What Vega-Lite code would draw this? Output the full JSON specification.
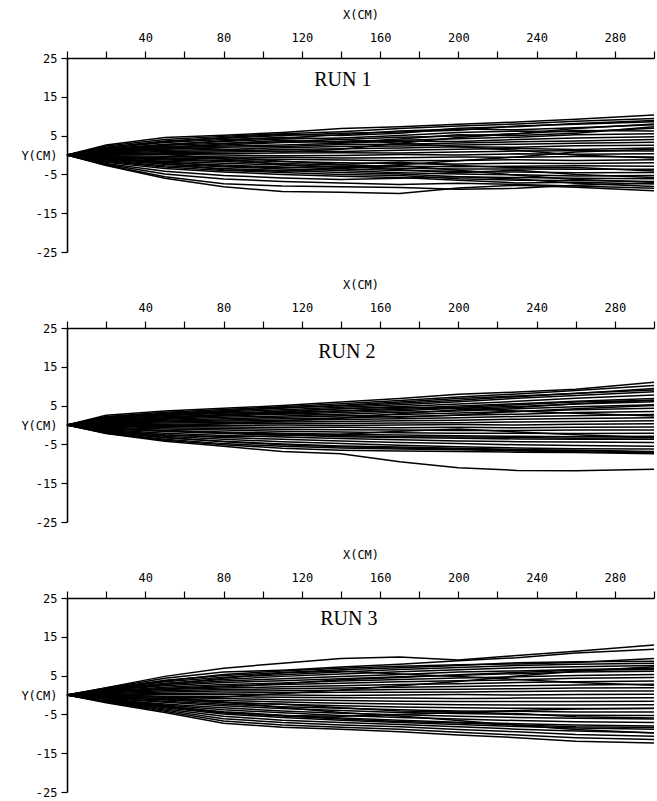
{
"$schema": "https://vega.github.io/schema/vega-lite/v6.json",
"padding": {"left": 20, "top": 8, "right": 2, "bottom": 2},
"background": "white",
"spacing": 20,
"config": {
  "view": {"stroke": null},
  "axis": {"domainColor": "black", "tickColor": "black", "labelColor": "black", "titleColor": "black", "labelFont": "DejaVu Sans Mono", "titleFont": "DejaVu Sans Mono", "labelFontSize": 12, "titleFontSize": 12, "titleFontWeight": "normal", "grid": false, "domainWidth": 1.6, "tickWidth": 1.2}
},
"datasets": {"paths": [
{"r":1,"l":1,"x":0,"y":0},{"r":1,"l":1,"x":20,"y":2.6},{"r":1,"l":1,"x":50,"y":4.5},{"r":1,"l":1,"x":80,"y":5.1},{"r":1,"l":1,"x":110,"y":5.8},{"r":1,"l":1,"x":140,"y":6.8},{"r":1,"l":1,"x":170,"y":7.3},{"r":1,"l":1,"x":200,"y":7.9},{"r":1,"l":1,"x":230,"y":8.5},{"r":1,"l":1,"x":260,"y":9.2},{"r":1,"l":1,"x":300,"y":10.3},
{"r":1,"l":2,"x":0,"y":0},{"r":1,"l":2,"x":20,"y":2.3},{"r":1,"l":2,"x":50,"y":4.0},{"r":1,"l":2,"x":80,"y":4.8},{"r":1,"l":2,"x":110,"y":5.5},{"r":1,"l":2,"x":140,"y":6.0},{"r":1,"l":2,"x":170,"y":6.8},{"r":1,"l":2,"x":200,"y":7.5},{"r":1,"l":2,"x":230,"y":8.0},{"r":1,"l":2,"x":260,"y":8.7},{"r":1,"l":2,"x":300,"y":9.4},
{"r":1,"l":3,"x":0,"y":0},{"r":1,"l":3,"x":20,"y":2.0},{"r":1,"l":3,"x":50,"y":3.6},{"r":1,"l":3,"x":80,"y":4.3},{"r":1,"l":3,"x":110,"y":5.0},{"r":1,"l":3,"x":140,"y":5.6},{"r":1,"l":3,"x":170,"y":5.9},{"r":1,"l":3,"x":200,"y":6.4},{"r":1,"l":3,"x":230,"y":7.5},{"r":1,"l":3,"x":260,"y":7.9},{"r":1,"l":3,"x":300,"y":8.6},
{"r":1,"l":4,"x":0,"y":0},{"r":1,"l":4,"x":20,"y":1.8},{"r":1,"l":4,"x":50,"y":3.2},{"r":1,"l":4,"x":80,"y":4.0},{"r":1,"l":4,"x":110,"y":4.4},{"r":1,"l":4,"x":140,"y":5.2},{"r":1,"l":4,"x":170,"y":6.2},{"r":1,"l":4,"x":200,"y":6.7},{"r":1,"l":4,"x":230,"y":6.5},{"r":1,"l":4,"x":260,"y":7.0},{"r":1,"l":4,"x":300,"y":7.8},
{"r":1,"l":5,"x":0,"y":0},{"r":1,"l":5,"x":20,"y":1.6},{"r":1,"l":5,"x":50,"y":2.8},{"r":1,"l":5,"x":80,"y":3.5},{"r":1,"l":5,"x":110,"y":4.1},{"r":1,"l":5,"x":140,"y":4.4},{"r":1,"l":5,"x":170,"y":5.0},{"r":1,"l":5,"x":200,"y":5.8},{"r":1,"l":5,"x":230,"y":6.2},{"r":1,"l":5,"x":260,"y":6.0},{"r":1,"l":5,"x":300,"y":6.9},
{"r":1,"l":6,"x":0,"y":0},{"r":1,"l":6,"x":20,"y":1.4},{"r":1,"l":6,"x":50,"y":2.5},{"r":1,"l":6,"x":80,"y":3.0},{"r":1,"l":6,"x":110,"y":3.4},{"r":1,"l":6,"x":140,"y":4.0},{"r":1,"l":6,"x":170,"y":4.6},{"r":1,"l":6,"x":200,"y":4.9},{"r":1,"l":6,"x":230,"y":5.5},{"r":1,"l":6,"x":260,"y":6.3},{"r":1,"l":6,"x":300,"y":6.2},
{"r":1,"l":7,"x":0,"y":0},{"r":1,"l":7,"x":20,"y":1.2},{"r":1,"l":7,"x":50,"y":2.2},{"r":1,"l":7,"x":80,"y":2.6},{"r":1,"l":7,"x":110,"y":3.2},{"r":1,"l":7,"x":140,"y":3.5},{"r":1,"l":7,"x":170,"y":3.8},{"r":1,"l":7,"x":200,"y":4.2},{"r":1,"l":7,"x":230,"y":4.6},{"r":1,"l":7,"x":260,"y":5.2},{"r":1,"l":7,"x":300,"y":5.5},
{"r":1,"l":8,"x":0,"y":0},{"r":1,"l":8,"x":20,"y":1.0},{"r":1,"l":8,"x":50,"y":1.9},{"r":1,"l":8,"x":80,"y":2.3},{"r":1,"l":8,"x":110,"y":2.6},{"r":1,"l":8,"x":140,"y":3.0},{"r":1,"l":8,"x":170,"y":3.6},{"r":1,"l":8,"x":200,"y":3.5},{"r":1,"l":8,"x":230,"y":4.0},{"r":1,"l":8,"x":260,"y":4.4},{"r":1,"l":8,"x":300,"y":4.7},
{"r":1,"l":9,"x":0,"y":0},{"r":1,"l":9,"x":20,"y":0.8},{"r":1,"l":9,"x":50,"y":1.5},{"r":1,"l":9,"x":80,"y":2.0},{"r":1,"l":9,"x":110,"y":2.2},{"r":1,"l":9,"x":140,"y":2.7},{"r":1,"l":9,"x":170,"y":2.8},{"r":1,"l":9,"x":200,"y":3.1},{"r":1,"l":9,"x":230,"y":3.4},{"r":1,"l":9,"x":260,"y":3.6},{"r":1,"l":9,"x":300,"y":4.0},
{"r":1,"l":10,"x":0,"y":0},{"r":1,"l":10,"x":20,"y":0.7},{"r":1,"l":10,"x":50,"y":1.2},{"r":1,"l":10,"x":80,"y":1.4},{"r":1,"l":10,"x":110,"y":1.9},{"r":1,"l":10,"x":140,"y":2.2},{"r":1,"l":10,"x":170,"y":2.3},{"r":1,"l":10,"x":200,"y":2.6},{"r":1,"l":10,"x":230,"y":2.8},{"r":1,"l":10,"x":260,"y":3.0},{"r":1,"l":10,"x":300,"y":3.3},
{"r":1,"l":11,"x":0,"y":0},{"r":1,"l":11,"x":20,"y":0.5},{"r":1,"l":11,"x":50,"y":0.9},{"r":1,"l":11,"x":80,"y":1.1},{"r":1,"l":11,"x":110,"y":1.4},{"r":1,"l":11,"x":140,"y":1.6},{"r":1,"l":11,"x":170,"y":1.8},{"r":1,"l":11,"x":200,"y":2.1},{"r":1,"l":11,"x":230,"y":2.0},{"r":1,"l":11,"x":260,"y":2.4},{"r":1,"l":11,"x":300,"y":2.5},
{"r":1,"l":12,"x":0,"y":0},{"r":1,"l":12,"x":20,"y":0.3},{"r":1,"l":12,"x":50,"y":0.6},{"r":1,"l":12,"x":80,"y":0.8},{"r":1,"l":12,"x":110,"y":1.0},{"r":1,"l":12,"x":140,"y":0.9},{"r":1,"l":12,"x":170,"y":1.2},{"r":1,"l":12,"x":200,"y":1.5},{"r":1,"l":12,"x":230,"y":1.7},{"r":1,"l":12,"x":260,"y":1.4},{"r":1,"l":12,"x":300,"y":1.8},
{"r":1,"l":13,"x":0,"y":0},{"r":1,"l":13,"x":20,"y":0.2},{"r":1,"l":13,"x":50,"y":0.3},{"r":1,"l":13,"x":80,"y":0.4},{"r":1,"l":13,"x":110,"y":0.5},{"r":1,"l":13,"x":140,"y":0.6},{"r":1,"l":13,"x":170,"y":0.5},{"r":1,"l":13,"x":200,"y":0.8},{"r":1,"l":13,"x":230,"y":1.0},{"r":1,"l":13,"x":260,"y":1.1},{"r":1,"l":13,"x":300,"y":1.0},
{"r":1,"l":14,"x":0,"y":0},{"r":1,"l":14,"x":20,"y":0.0},{"r":1,"l":14,"x":50,"y":0.1},{"r":1,"l":14,"x":80,"y":0.0},{"r":1,"l":14,"x":110,"y":-0.2},{"r":1,"l":14,"x":140,"y":-0.1},{"r":1,"l":14,"x":170,"y":0.1},{"r":1,"l":14,"x":200,"y":0.0},{"r":1,"l":14,"x":230,"y":0.3},{"r":1,"l":14,"x":260,"y":0.2},{"r":1,"l":14,"x":300,"y":0.3},
{"r":1,"l":15,"x":0,"y":0},{"r":1,"l":15,"x":20,"y":-0.2},{"r":1,"l":15,"x":50,"y":-0.3},{"r":1,"l":15,"x":80,"y":-0.5},{"r":1,"l":15,"x":110,"y":-0.6},{"r":1,"l":15,"x":140,"y":-0.8},{"r":1,"l":15,"x":170,"y":-0.7},{"r":1,"l":15,"x":200,"y":-0.5},{"r":1,"l":15,"x":230,"y":-0.6},{"r":1,"l":15,"x":260,"y":-0.4},{"r":1,"l":15,"x":300,"y":-0.5},
{"r":1,"l":16,"x":0,"y":0},{"r":1,"l":16,"x":20,"y":-0.4},{"r":1,"l":16,"x":50,"y":-0.7},{"r":1,"l":16,"x":80,"y":-1.0},{"r":1,"l":16,"x":110,"y":-1.1},{"r":1,"l":16,"x":140,"y":-1.3},{"r":1,"l":16,"x":170,"y":-1.5},{"r":1,"l":16,"x":200,"y":-1.4},{"r":1,"l":16,"x":230,"y":-1.2},{"r":1,"l":16,"x":260,"y":-1.4},{"r":1,"l":16,"x":300,"y":-1.2},
{"r":1,"l":17,"x":0,"y":0},{"r":1,"l":17,"x":20,"y":-0.5},{"r":1,"l":17,"x":50,"y":-1.0},{"r":1,"l":17,"x":80,"y":-1.4},{"r":1,"l":17,"x":110,"y":-1.7},{"r":1,"l":17,"x":140,"y":-2.0},{"r":1,"l":17,"x":170,"y":-2.2},{"r":1,"l":17,"x":200,"y":-2.3},{"r":1,"l":17,"x":230,"y":-2.1},{"r":1,"l":17,"x":260,"y":-2.2},{"r":1,"l":17,"x":300,"y":-2.0},
{"r":1,"l":18,"x":0,"y":0},{"r":1,"l":18,"x":20,"y":-0.7},{"r":1,"l":18,"x":50,"y":-1.3},{"r":1,"l":18,"x":80,"y":-1.7},{"r":1,"l":18,"x":110,"y":-2.2},{"r":1,"l":18,"x":140,"y":-2.6},{"r":1,"l":18,"x":170,"y":-2.9},{"r":1,"l":18,"x":200,"y":-3.0},{"r":1,"l":18,"x":230,"y":-2.9},{"r":1,"l":18,"x":260,"y":-2.8},{"r":1,"l":18,"x":300,"y":-2.9},
{"r":1,"l":19,"x":0,"y":0},{"r":1,"l":19,"x":20,"y":-0.9},{"r":1,"l":19,"x":50,"y":-1.6},{"r":1,"l":19,"x":80,"y":-2.1},{"r":1,"l":19,"x":110,"y":-2.6},{"r":1,"l":19,"x":140,"y":-3.0},{"r":1,"l":19,"x":170,"y":-3.4},{"r":1,"l":19,"x":200,"y":-3.6},{"r":1,"l":19,"x":230,"y":-3.6},{"r":1,"l":19,"x":260,"y":-3.7},{"r":1,"l":19,"x":300,"y":-3.7},
{"r":1,"l":20,"x":0,"y":0},{"r":1,"l":20,"x":20,"y":-1.1},{"r":1,"l":20,"x":50,"y":-2.0},{"r":1,"l":20,"x":80,"y":-2.6},{"r":1,"l":20,"x":110,"y":-3.1},{"r":1,"l":20,"x":140,"y":-3.6},{"r":1,"l":20,"x":170,"y":-4.0},{"r":1,"l":20,"x":200,"y":-4.2},{"r":1,"l":20,"x":230,"y":-4.4},{"r":1,"l":20,"x":260,"y":-4.6},{"r":1,"l":20,"x":300,"y":-4.5},
{"r":1,"l":21,"x":0,"y":0},{"r":1,"l":21,"x":20,"y":-1.3},{"r":1,"l":21,"x":50,"y":-2.4},{"r":1,"l":21,"x":80,"y":-3.0},{"r":1,"l":21,"x":110,"y":-3.6},{"r":1,"l":21,"x":140,"y":-4.0},{"r":1,"l":21,"x":170,"y":-4.6},{"r":1,"l":21,"x":200,"y":-4.9},{"r":1,"l":21,"x":230,"y":-5.1},{"r":1,"l":21,"x":260,"y":-5.4},{"r":1,"l":21,"x":300,"y":-5.3},
{"r":1,"l":22,"x":0,"y":0},{"r":1,"l":22,"x":20,"y":-1.5},{"r":1,"l":22,"x":50,"y":-2.8},{"r":1,"l":22,"x":80,"y":-3.5},{"r":1,"l":22,"x":110,"y":-4.0},{"r":1,"l":22,"x":140,"y":-4.5},{"r":1,"l":22,"x":170,"y":-4.9},{"r":1,"l":22,"x":200,"y":-5.6},{"r":1,"l":22,"x":230,"y":-5.8},{"r":1,"l":22,"x":260,"y":-6.0},{"r":1,"l":22,"x":300,"y":-6.1},
{"r":1,"l":23,"x":0,"y":0},{"r":1,"l":23,"x":20,"y":-1.7},{"r":1,"l":23,"x":50,"y":-3.1},{"r":1,"l":23,"x":80,"y":-4.0},{"r":1,"l":23,"x":110,"y":-4.5},{"r":1,"l":23,"x":140,"y":-5.0},{"r":1,"l":23,"x":170,"y":-5.3},{"r":1,"l":23,"x":200,"y":-6.1},{"r":1,"l":23,"x":230,"y":-6.5},{"r":1,"l":23,"x":260,"y":-6.6},{"r":1,"l":23,"x":300,"y":-6.8},
{"r":1,"l":24,"x":0,"y":0},{"r":1,"l":24,"x":20,"y":-1.9},{"r":1,"l":24,"x":50,"y":-3.5},{"r":1,"l":24,"x":80,"y":-4.4},{"r":1,"l":24,"x":110,"y":-5.0},{"r":1,"l":24,"x":140,"y":-5.5},{"r":1,"l":24,"x":170,"y":-5.8},{"r":1,"l":24,"x":200,"y":-6.5},{"r":1,"l":24,"x":230,"y":-7.2},{"r":1,"l":24,"x":260,"y":-7.0},{"r":1,"l":24,"x":300,"y":-7.5},
{"r":1,"l":25,"x":0,"y":0},{"r":1,"l":25,"x":20,"y":-2.2},{"r":1,"l":25,"x":50,"y":-4.2},{"r":1,"l":25,"x":80,"y":-5.3},{"r":1,"l":25,"x":110,"y":-5.9},{"r":1,"l":25,"x":140,"y":-6.3},{"r":1,"l":25,"x":170,"y":-6.0},{"r":1,"l":25,"x":200,"y":-5.6},{"r":1,"l":25,"x":230,"y":-6.2},{"r":1,"l":25,"x":260,"y":-7.3},{"r":1,"l":25,"x":300,"y":-8.1},
{"r":1,"l":26,"x":0,"y":0},{"r":1,"l":26,"x":20,"y":-2.4},{"r":1,"l":26,"x":50,"y":-4.9},{"r":1,"l":26,"x":80,"y":-6.2},{"r":1,"l":26,"x":110,"y":-6.8},{"r":1,"l":26,"x":140,"y":-7.2},{"r":1,"l":26,"x":170,"y":-7.6},{"r":1,"l":26,"x":200,"y":-7.3},{"r":1,"l":26,"x":230,"y":-7.6},{"r":1,"l":26,"x":260,"y":-8.0},{"r":1,"l":26,"x":300,"y":-8.6},
{"r":1,"l":27,"x":0,"y":0},{"r":1,"l":27,"x":20,"y":-2.6},{"r":1,"l":27,"x":50,"y":-5.6},{"r":1,"l":27,"x":80,"y":-7.4},{"r":1,"l":27,"x":110,"y":-8.0},{"r":1,"l":27,"x":140,"y":-8.2},{"r":1,"l":27,"x":170,"y":-8.4},{"r":1,"l":27,"x":200,"y":-8.8},{"r":1,"l":27,"x":230,"y":-8.6},{"r":1,"l":27,"x":260,"y":-7.8},{"r":1,"l":27,"x":300,"y":-7.2},
{"r":1,"l":28,"x":0,"y":0},{"r":1,"l":28,"x":20,"y":-2.7},{"r":1,"l":28,"x":50,"y":-6.0},{"r":1,"l":28,"x":80,"y":-8.2},{"r":1,"l":28,"x":110,"y":-9.4},{"r":1,"l":28,"x":140,"y":-9.6},{"r":1,"l":28,"x":170,"y":-9.9},{"r":1,"l":28,"x":200,"y":-8.5},{"r":1,"l":28,"x":230,"y":-7.8},{"r":1,"l":28,"x":260,"y":-8.3},{"r":1,"l":28,"x":300,"y":-9.2},
{"r":1,"l":29,"x":0,"y":0},{"r":1,"l":29,"x":20,"y":1.5},{"r":1,"l":29,"x":50,"y":2.0},{"r":1,"l":29,"x":80,"y":1.5},{"r":1,"l":29,"x":110,"y":0.8},{"r":1,"l":29,"x":140,"y":1.5},{"r":1,"l":29,"x":170,"y":3.0},{"r":1,"l":29,"x":200,"y":4.5},{"r":1,"l":29,"x":230,"y":5.5},{"r":1,"l":29,"x":260,"y":6.8},{"r":1,"l":29,"x":300,"y":8.0},
{"r":1,"l":30,"x":0,"y":0},{"r":1,"l":30,"x":20,"y":0.6},{"r":1,"l":30,"x":50,"y":0.2},{"r":1,"l":30,"x":80,"y":-1.0},{"r":1,"l":30,"x":110,"y":-2.5},{"r":1,"l":30,"x":140,"y":-3.2},{"r":1,"l":30,"x":170,"y":-2.5},{"r":1,"l":30,"x":200,"y":-1.5},{"r":1,"l":30,"x":230,"y":-0.5},{"r":1,"l":30,"x":260,"y":0.8},{"r":1,"l":30,"x":300,"y":1.5},
{"r":1,"l":31,"x":0,"y":0},{"r":1,"l":31,"x":20,"y":-0.8},{"r":1,"l":31,"x":50,"y":-2.2},{"r":1,"l":31,"x":80,"y":-3.8},{"r":1,"l":31,"x":110,"y":-4.2},{"r":1,"l":31,"x":140,"y":-3.5},{"r":1,"l":31,"x":170,"y":-2.8},{"r":1,"l":31,"x":200,"y":-3.9},{"r":1,"l":31,"x":230,"y":-5.2},{"r":1,"l":31,"x":260,"y":-6.3},{"r":1,"l":31,"x":300,"y":-7.0},
{"r":1,"l":32,"x":0,"y":0},{"r":1,"l":32,"x":20,"y":1.1},{"r":1,"l":32,"x":50,"y":2.6},{"r":1,"l":32,"x":80,"y":3.7},{"r":1,"l":32,"x":110,"y":4.6},{"r":1,"l":32,"x":140,"y":4.0},{"r":1,"l":32,"x":170,"y":3.0},{"r":1,"l":32,"x":200,"y":2.2},{"r":1,"l":32,"x":230,"y":1.2},{"r":1,"l":32,"x":260,"y":0.0},{"r":1,"l":32,"x":300,"y":-0.8},
{"r":1,"l":33,"x":0,"y":0},{"r":1,"l":33,"x":20,"y":1.9},{"r":1,"l":33,"x":50,"y":3.4},{"r":1,"l":33,"x":80,"y":4.5},{"r":1,"l":33,"x":110,"y":5.3},{"r":1,"l":33,"x":140,"y":5.0},{"r":1,"l":33,"x":170,"y":5.6},{"r":1,"l":33,"x":200,"y":6.9},{"r":1,"l":33,"x":230,"y":7.3},{"r":1,"l":33,"x":260,"y":8.1},{"r":1,"l":33,"x":300,"y":8.9},
{"r":1,"l":34,"x":0,"y":0},{"r":1,"l":34,"x":20,"y":-1.0},{"r":1,"l":34,"x":50,"y":-1.8},{"r":1,"l":34,"x":80,"y":-2.9},{"r":1,"l":34,"x":110,"y":-3.3},{"r":1,"l":34,"x":140,"y":-2.9},{"r":1,"l":34,"x":170,"y":-3.8},{"r":1,"l":34,"x":200,"y":-4.6},{"r":1,"l":34,"x":230,"y":-3.9},{"r":1,"l":34,"x":260,"y":-5.0},{"r":1,"l":34,"x":300,"y":-5.8},
{"r":1,"l":35,"x":0,"y":0},{"r":1,"l":35,"x":20,"y":0.9},{"r":1,"l":35,"x":50,"y":1.6},{"r":1,"l":35,"x":80,"y":2.9},{"r":1,"l":35,"x":110,"y":3.8},{"r":1,"l":35,"x":140,"y":3.2},{"r":1,"l":35,"x":170,"y":4.1},{"r":1,"l":35,"x":200,"y":5.2},{"r":1,"l":35,"x":230,"y":5.0},{"r":1,"l":35,"x":260,"y":5.6},{"r":1,"l":35,"x":300,"y":7.3},
{"r":1,"l":36,"x":0,"y":0},{"r":1,"l":36,"x":20,"y":-0.3},{"r":1,"l":36,"x":50,"y":-0.9},{"r":1,"l":36,"x":80,"y":-0.6},{"r":1,"l":36,"x":110,"y":-1.6},{"r":1,"l":36,"x":140,"y":-2.4},{"r":1,"l":36,"x":170,"y":-1.9},{"r":1,"l":36,"x":200,"y":-2.7},{"r":1,"l":36,"x":230,"y":-3.3},{"r":1,"l":36,"x":260,"y":-3.2},{"r":1,"l":36,"x":300,"y":-4.1},

{"r":2,"l":1,"x":0,"y":0},{"r":2,"l":1,"x":20,"y":2.5},{"r":2,"l":1,"x":50,"y":3.6},{"r":2,"l":1,"x":80,"y":4.3},{"r":2,"l":1,"x":110,"y":5.0},{"r":2,"l":1,"x":140,"y":5.9},{"r":2,"l":1,"x":170,"y":6.8},{"r":2,"l":1,"x":200,"y":7.9},{"r":2,"l":1,"x":230,"y":8.5},{"r":2,"l":1,"x":260,"y":9.2},{"r":2,"l":1,"x":300,"y":11.0},
{"r":2,"l":2,"x":0,"y":0},{"r":2,"l":2,"x":20,"y":2.2},{"r":2,"l":2,"x":50,"y":3.3},{"r":2,"l":2,"x":80,"y":4.0},{"r":2,"l":2,"x":110,"y":4.7},{"r":2,"l":2,"x":140,"y":5.5},{"r":2,"l":2,"x":170,"y":6.3},{"r":2,"l":2,"x":200,"y":7.2},{"r":2,"l":2,"x":230,"y":8.0},{"r":2,"l":2,"x":260,"y":8.9},{"r":2,"l":2,"x":300,"y":10.2},
{"r":2,"l":3,"x":0,"y":0},{"r":2,"l":3,"x":20,"y":2.0},{"r":2,"l":3,"x":50,"y":3.0},{"r":2,"l":3,"x":80,"y":3.7},{"r":2,"l":3,"x":110,"y":4.3},{"r":2,"l":3,"x":140,"y":5.1},{"r":2,"l":3,"x":170,"y":5.9},{"r":2,"l":3,"x":200,"y":6.8},{"r":2,"l":3,"x":230,"y":7.5},{"r":2,"l":3,"x":260,"y":8.1},{"r":2,"l":3,"x":300,"y":9.4},
{"r":2,"l":4,"x":0,"y":0},{"r":2,"l":4,"x":20,"y":1.8},{"r":2,"l":4,"x":50,"y":2.7},{"r":2,"l":4,"x":80,"y":3.4},{"r":2,"l":4,"x":110,"y":3.9},{"r":2,"l":4,"x":140,"y":4.6},{"r":2,"l":4,"x":170,"y":5.2},{"r":2,"l":4,"x":200,"y":6.0},{"r":2,"l":4,"x":230,"y":6.9},{"r":2,"l":4,"x":260,"y":7.6},{"r":2,"l":4,"x":300,"y":8.6},
{"r":2,"l":5,"x":0,"y":0},{"r":2,"l":5,"x":20,"y":1.6},{"r":2,"l":5,"x":50,"y":2.4},{"r":2,"l":5,"x":80,"y":3.0},{"r":2,"l":5,"x":110,"y":3.6},{"r":2,"l":5,"x":140,"y":4.2},{"r":2,"l":5,"x":170,"y":4.8},{"r":2,"l":5,"x":200,"y":5.4},{"r":2,"l":5,"x":230,"y":6.1},{"r":2,"l":5,"x":260,"y":6.9},{"r":2,"l":5,"x":300,"y":7.7},
{"r":2,"l":6,"x":0,"y":0},{"r":2,"l":6,"x":20,"y":1.4},{"r":2,"l":6,"x":50,"y":2.1},{"r":2,"l":6,"x":80,"y":2.7},{"r":2,"l":6,"x":110,"y":3.2},{"r":2,"l":6,"x":140,"y":3.7},{"r":2,"l":6,"x":170,"y":4.3},{"r":2,"l":6,"x":200,"y":4.9},{"r":2,"l":6,"x":230,"y":5.5},{"r":2,"l":6,"x":260,"y":6.1},{"r":2,"l":6,"x":300,"y":6.8},
{"r":2,"l":7,"x":0,"y":0},{"r":2,"l":7,"x":20,"y":1.2},{"r":2,"l":7,"x":50,"y":1.8},{"r":2,"l":7,"x":80,"y":2.3},{"r":2,"l":7,"x":110,"y":2.8},{"r":2,"l":7,"x":140,"y":3.2},{"r":2,"l":7,"x":170,"y":3.7},{"r":2,"l":7,"x":200,"y":4.3},{"r":2,"l":7,"x":230,"y":4.8},{"r":2,"l":7,"x":260,"y":5.4},{"r":2,"l":7,"x":300,"y":6.0},
{"r":2,"l":8,"x":0,"y":0},{"r":2,"l":8,"x":20,"y":1.0},{"r":2,"l":8,"x":50,"y":1.5},{"r":2,"l":8,"x":80,"y":2.0},{"r":2,"l":8,"x":110,"y":2.3},{"r":2,"l":8,"x":140,"y":2.8},{"r":2,"l":8,"x":170,"y":3.3},{"r":2,"l":8,"x":200,"y":3.6},{"r":2,"l":8,"x":230,"y":4.2},{"r":2,"l":8,"x":260,"y":4.7},{"r":2,"l":8,"x":300,"y":5.2},
{"r":2,"l":9,"x":0,"y":0},{"r":2,"l":9,"x":20,"y":0.8},{"r":2,"l":9,"x":50,"y":1.2},{"r":2,"l":9,"x":80,"y":1.6},{"r":2,"l":9,"x":110,"y":2.0},{"r":2,"l":9,"x":140,"y":2.3},{"r":2,"l":9,"x":170,"y":2.7},{"r":2,"l":9,"x":200,"y":3.1},{"r":2,"l":9,"x":230,"y":3.5},{"r":2,"l":9,"x":260,"y":3.9},{"r":2,"l":9,"x":300,"y":4.3},
{"r":2,"l":10,"x":0,"y":0},{"r":2,"l":10,"x":20,"y":0.6},{"r":2,"l":10,"x":50,"y":1.0},{"r":2,"l":10,"x":80,"y":1.3},{"r":2,"l":10,"x":110,"y":1.6},{"r":2,"l":10,"x":140,"y":1.8},{"r":2,"l":10,"x":170,"y":2.2},{"r":2,"l":10,"x":200,"y":2.5},{"r":2,"l":10,"x":230,"y":2.8},{"r":2,"l":10,"x":260,"y":3.2},{"r":2,"l":10,"x":300,"y":3.5},
{"r":2,"l":11,"x":0,"y":0},{"r":2,"l":11,"x":20,"y":0.5},{"r":2,"l":11,"x":50,"y":0.8},{"r":2,"l":11,"x":80,"y":1.0},{"r":2,"l":11,"x":110,"y":1.2},{"r":2,"l":11,"x":140,"y":1.4},{"r":2,"l":11,"x":170,"y":1.6},{"r":2,"l":11,"x":200,"y":1.9},{"r":2,"l":11,"x":230,"y":2.2},{"r":2,"l":11,"x":260,"y":2.4},{"r":2,"l":11,"x":300,"y":2.7},
{"r":2,"l":12,"x":0,"y":0},{"r":2,"l":12,"x":20,"y":0.3},{"r":2,"l":12,"x":50,"y":0.5},{"r":2,"l":12,"x":80,"y":0.7},{"r":2,"l":12,"x":110,"y":0.8},{"r":2,"l":12,"x":140,"y":0.9},{"r":2,"l":12,"x":170,"y":1.1},{"r":2,"l":12,"x":200,"y":1.2},{"r":2,"l":12,"x":230,"y":1.5},{"r":2,"l":12,"x":260,"y":1.7},{"r":2,"l":12,"x":300,"y":1.9},
{"r":2,"l":13,"x":0,"y":0},{"r":2,"l":13,"x":20,"y":0.1},{"r":2,"l":13,"x":50,"y":0.2},{"r":2,"l":13,"x":80,"y":0.3},{"r":2,"l":13,"x":110,"y":0.4},{"r":2,"l":13,"x":140,"y":0.4},{"r":2,"l":13,"x":170,"y":0.5},{"r":2,"l":13,"x":200,"y":0.6},{"r":2,"l":13,"x":230,"y":0.8},{"r":2,"l":13,"x":260,"y":0.9},{"r":2,"l":13,"x":300,"y":1.1},
{"r":2,"l":14,"x":0,"y":0},{"r":2,"l":14,"x":20,"y":0.0},{"r":2,"l":14,"x":50,"y":-0.1},{"r":2,"l":14,"x":80,"y":-0.1},{"r":2,"l":14,"x":110,"y":0.0},{"r":2,"l":14,"x":140,"y":-0.1},{"r":2,"l":14,"x":170,"y":0.0},{"r":2,"l":14,"x":200,"y":0.1},{"r":2,"l":14,"x":230,"y":0.0},{"r":2,"l":14,"x":260,"y":0.2},{"r":2,"l":14,"x":300,"y":0.3},
{"r":2,"l":15,"x":0,"y":0},{"r":2,"l":15,"x":20,"y":-0.2},{"r":2,"l":15,"x":50,"y":-0.4},{"r":2,"l":15,"x":80,"y":-0.5},{"r":2,"l":15,"x":110,"y":-0.6},{"r":2,"l":15,"x":140,"y":-0.6},{"r":2,"l":15,"x":170,"y":-0.7},{"r":2,"l":15,"x":200,"y":-0.6},{"r":2,"l":15,"x":230,"y":-0.7},{"r":2,"l":15,"x":260,"y":-0.6},{"r":2,"l":15,"x":300,"y":-0.5},
{"r":2,"l":16,"x":0,"y":0},{"r":2,"l":16,"x":20,"y":-0.4},{"r":2,"l":16,"x":50,"y":-0.7},{"r":2,"l":16,"x":80,"y":-0.9},{"r":2,"l":16,"x":110,"y":-1.1},{"r":2,"l":16,"x":140,"y":-1.2},{"r":2,"l":16,"x":170,"y":-1.3},{"r":2,"l":16,"x":200,"y":-1.4},{"r":2,"l":16,"x":230,"y":-1.4},{"r":2,"l":16,"x":260,"y":-1.3},{"r":2,"l":16,"x":300,"y":-1.3},
{"r":2,"l":17,"x":0,"y":0},{"r":2,"l":17,"x":20,"y":-0.6},{"r":2,"l":17,"x":50,"y":-1.0},{"r":2,"l":17,"x":80,"y":-1.3},{"r":2,"l":17,"x":110,"y":-1.6},{"r":2,"l":17,"x":140,"y":-1.8},{"r":2,"l":17,"x":170,"y":-2.0},{"r":2,"l":17,"x":200,"y":-2.1},{"r":2,"l":17,"x":230,"y":-2.1},{"r":2,"l":17,"x":260,"y":-2.2},{"r":2,"l":17,"x":300,"y":-2.1},
{"r":2,"l":18,"x":0,"y":0},{"r":2,"l":18,"x":20,"y":-0.8},{"r":2,"l":18,"x":50,"y":-1.4},{"r":2,"l":18,"x":80,"y":-1.8},{"r":2,"l":18,"x":110,"y":-2.1},{"r":2,"l":18,"x":140,"y":-2.4},{"r":2,"l":18,"x":170,"y":-2.6},{"r":2,"l":18,"x":200,"y":-2.8},{"r":2,"l":18,"x":230,"y":-2.9},{"r":2,"l":18,"x":260,"y":-3.0},{"r":2,"l":18,"x":300,"y":-2.9},
{"r":2,"l":19,"x":0,"y":0},{"r":2,"l":19,"x":20,"y":-1.0},{"r":2,"l":19,"x":50,"y":-1.7},{"r":2,"l":19,"x":80,"y":-2.2},{"r":2,"l":19,"x":110,"y":-2.6},{"r":2,"l":19,"x":140,"y":-3.0},{"r":2,"l":19,"x":170,"y":-3.2},{"r":2,"l":19,"x":200,"y":-3.4},{"r":2,"l":19,"x":230,"y":-3.6},{"r":2,"l":19,"x":260,"y":-3.7},{"r":2,"l":19,"x":300,"y":-3.7},
{"r":2,"l":20,"x":0,"y":0},{"r":2,"l":20,"x":20,"y":-1.2},{"r":2,"l":20,"x":50,"y":-2.1},{"r":2,"l":20,"x":80,"y":-2.7},{"r":2,"l":20,"x":110,"y":-3.1},{"r":2,"l":20,"x":140,"y":-3.5},{"r":2,"l":20,"x":170,"y":-3.8},{"r":2,"l":20,"x":200,"y":-4.1},{"r":2,"l":20,"x":230,"y":-4.3},{"r":2,"l":20,"x":260,"y":-4.4},{"r":2,"l":20,"x":300,"y":-4.5},
{"r":2,"l":21,"x":0,"y":0},{"r":2,"l":21,"x":20,"y":-1.4},{"r":2,"l":21,"x":50,"y":-2.5},{"r":2,"l":21,"x":80,"y":-3.2},{"r":2,"l":21,"x":110,"y":-3.7},{"r":2,"l":21,"x":140,"y":-4.1},{"r":2,"l":21,"x":170,"y":-4.5},{"r":2,"l":21,"x":200,"y":-4.8},{"r":2,"l":21,"x":230,"y":-5.1},{"r":2,"l":21,"x":260,"y":-5.3},{"r":2,"l":21,"x":300,"y":-5.5},
{"r":2,"l":22,"x":0,"y":0},{"r":2,"l":22,"x":20,"y":-1.6},{"r":2,"l":22,"x":50,"y":-2.9},{"r":2,"l":22,"x":80,"y":-3.7},{"r":2,"l":22,"x":110,"y":-4.3},{"r":2,"l":22,"x":140,"y":-4.8},{"r":2,"l":22,"x":170,"y":-5.2},{"r":2,"l":22,"x":200,"y":-5.6},{"r":2,"l":22,"x":230,"y":-5.9},{"r":2,"l":22,"x":260,"y":-6.1},{"r":2,"l":22,"x":300,"y":-6.2},
{"r":2,"l":23,"x":0,"y":0},{"r":2,"l":23,"x":20,"y":-1.8},{"r":2,"l":23,"x":50,"y":-3.3},{"r":2,"l":23,"x":80,"y":-4.2},{"r":2,"l":23,"x":110,"y":-4.9},{"r":2,"l":23,"x":140,"y":-5.4},{"r":2,"l":23,"x":170,"y":-5.7},{"r":2,"l":23,"x":200,"y":-6.0},{"r":2,"l":23,"x":230,"y":-6.3},{"r":2,"l":23,"x":260,"y":-6.5},{"r":2,"l":23,"x":300,"y":-6.8},
{"r":2,"l":24,"x":0,"y":0},{"r":2,"l":24,"x":20,"y":-2.0},{"r":2,"l":24,"x":50,"y":-3.7},{"r":2,"l":24,"x":80,"y":-4.8},{"r":2,"l":24,"x":110,"y":-5.5},{"r":2,"l":24,"x":140,"y":-5.9},{"r":2,"l":24,"x":170,"y":-6.2},{"r":2,"l":24,"x":200,"y":-6.4},{"r":2,"l":24,"x":230,"y":-6.7},{"r":2,"l":24,"x":260,"y":-6.9},{"r":2,"l":24,"x":300,"y":-7.2},
{"r":2,"l":25,"x":0,"y":0},{"r":2,"l":25,"x":20,"y":-2.1},{"r":2,"l":25,"x":50,"y":-3.9},{"r":2,"l":25,"x":80,"y":-5.1},{"r":2,"l":25,"x":110,"y":-6.0},{"r":2,"l":25,"x":140,"y":-6.5},{"r":2,"l":25,"x":170,"y":-6.7},{"r":2,"l":25,"x":200,"y":-6.8},{"r":2,"l":25,"x":230,"y":-7.0},{"r":2,"l":25,"x":260,"y":-7.1},{"r":2,"l":25,"x":300,"y":-7.4},
{"r":2,"l":26,"x":0,"y":0},{"r":2,"l":26,"x":20,"y":-2.2},{"r":2,"l":26,"x":50,"y":-4.2},{"r":2,"l":26,"x":80,"y":-5.5},{"r":2,"l":26,"x":110,"y":-6.8},{"r":2,"l":26,"x":140,"y":-7.4},{"r":2,"l":26,"x":170,"y":-9.5},{"r":2,"l":26,"x":200,"y":-11.0},{"r":2,"l":26,"x":230,"y":-11.7},{"r":2,"l":26,"x":260,"y":-11.8},{"r":2,"l":26,"x":300,"y":-11.4},
{"r":2,"l":27,"x":0,"y":0},{"r":2,"l":27,"x":20,"y":1.3},{"r":2,"l":27,"x":50,"y":2.5},{"r":2,"l":27,"x":80,"y":3.2},{"r":2,"l":27,"x":110,"y":3.0},{"r":2,"l":27,"x":140,"y":2.5},{"r":2,"l":27,"x":170,"y":2.0},{"r":2,"l":27,"x":200,"y":2.6},{"r":2,"l":27,"x":230,"y":3.5},{"r":2,"l":27,"x":260,"y":4.2},{"r":2,"l":27,"x":300,"y":5.0},
{"r":2,"l":28,"x":0,"y":0},{"r":2,"l":28,"x":20,"y":-0.3},{"r":2,"l":28,"x":50,"y":-0.2},{"r":2,"l":28,"x":80,"y":0.3},{"r":2,"l":28,"x":110,"y":1.0},{"r":2,"l":28,"x":140,"y":1.8},{"r":2,"l":28,"x":170,"y":2.9},{"r":2,"l":28,"x":200,"y":3.9},{"r":2,"l":28,"x":230,"y":4.5},{"r":2,"l":28,"x":260,"y":5.5},{"r":2,"l":28,"x":300,"y":6.4},
{"r":2,"l":29,"x":0,"y":0},{"r":2,"l":29,"x":20,"y":-1.5},{"r":2,"l":29,"x":50,"y":-2.6},{"r":2,"l":29,"x":80,"y":-3.0},{"r":2,"l":29,"x":110,"y":-2.8},{"r":2,"l":29,"x":140,"y":-2.4},{"r":2,"l":29,"x":170,"y":-1.6},{"r":2,"l":29,"x":200,"y":-1.0},{"r":2,"l":29,"x":230,"y":-1.8},{"r":2,"l":29,"x":260,"y":-2.5},{"r":2,"l":29,"x":300,"y":-3.2},
{"r":2,"l":30,"x":0,"y":0},{"r":2,"l":30,"x":20,"y":0.8},{"r":2,"l":30,"x":50,"y":1.7},{"r":2,"l":30,"x":80,"y":2.5},{"r":2,"l":30,"x":110,"y":3.4},{"r":2,"l":30,"x":140,"y":4.2},{"r":2,"l":30,"x":170,"y":4.6},{"r":2,"l":30,"x":200,"y":4.3},{"r":2,"l":30,"x":230,"y":3.6},{"r":2,"l":30,"x":260,"y":3.0},{"r":2,"l":30,"x":300,"y":2.3},
{"r":2,"l":31,"x":0,"y":0},{"r":2,"l":31,"x":20,"y":1.9},{"r":2,"l":31,"x":50,"y":2.9},{"r":2,"l":31,"x":80,"y":3.6},{"r":2,"l":31,"x":110,"y":4.5},{"r":2,"l":31,"x":140,"y":4.9},{"r":2,"l":31,"x":170,"y":5.6},{"r":2,"l":31,"x":200,"y":6.4},{"r":2,"l":31,"x":230,"y":7.3},{"r":2,"l":31,"x":260,"y":8.2},{"r":2,"l":31,"x":300,"y":9.0},
{"r":2,"l":32,"x":0,"y":0},{"r":2,"l":32,"x":20,"y":-0.9},{"r":2,"l":32,"x":50,"y":-1.5},{"r":2,"l":32,"x":80,"y":-2.0},{"r":2,"l":32,"x":110,"y":-2.3},{"r":2,"l":32,"x":140,"y":-2.7},{"r":2,"l":32,"x":170,"y":-3.0},{"r":2,"l":32,"x":200,"y":-3.1},{"r":2,"l":32,"x":230,"y":-3.2},{"r":2,"l":32,"x":260,"y":-3.4},{"r":2,"l":32,"x":300,"y":-3.3},
{"r":2,"l":33,"x":0,"y":0},{"r":2,"l":33,"x":20,"y":1.1},{"r":2,"l":33,"x":50,"y":1.9},{"r":2,"l":33,"x":80,"y":2.6},{"r":2,"l":33,"x":110,"y":3.0},{"r":2,"l":33,"x":140,"y":3.6},{"r":2,"l":33,"x":170,"y":4.0},{"r":2,"l":33,"x":200,"y":4.6},{"r":2,"l":33,"x":230,"y":5.2},{"r":2,"l":33,"x":260,"y":5.9},{"r":2,"l":33,"x":300,"y":6.4},
{"r":2,"l":34,"x":0,"y":0},{"r":2,"l":34,"x":20,"y":-1.7},{"r":2,"l":34,"x":50,"y":-3.2},{"r":2,"l":34,"x":80,"y":-4.3},{"r":2,"l":34,"x":110,"y":-5.1},{"r":2,"l":34,"x":140,"y":-5.6},{"r":2,"l":34,"x":170,"y":-5.9},{"r":2,"l":34,"x":200,"y":-6.2},{"r":2,"l":34,"x":230,"y":-6.5},{"r":2,"l":34,"x":260,"y":-6.6},{"r":2,"l":34,"x":300,"y":-7.0},

{"r":3,"l":1,"x":0,"y":0},{"r":3,"l":1,"x":20,"y":1.9},{"r":3,"l":1,"x":50,"y":4.8},{"r":3,"l":1,"x":80,"y":6.9},{"r":3,"l":1,"x":110,"y":8.2},{"r":3,"l":1,"x":140,"y":9.4},{"r":3,"l":1,"x":170,"y":9.8},{"r":3,"l":1,"x":200,"y":9.0},{"r":3,"l":1,"x":230,"y":10.2},{"r":3,"l":1,"x":260,"y":11.3},{"r":3,"l":1,"x":300,"y":12.9},
{"r":3,"l":2,"x":0,"y":0},{"r":3,"l":2,"x":20,"y":1.8},{"r":3,"l":2,"x":50,"y":4.3},{"r":3,"l":2,"x":80,"y":5.9},{"r":3,"l":2,"x":110,"y":6.4},{"r":3,"l":2,"x":140,"y":7.2},{"r":3,"l":2,"x":170,"y":7.9},{"r":3,"l":2,"x":200,"y":8.8},{"r":3,"l":2,"x":230,"y":9.6},{"r":3,"l":2,"x":260,"y":10.8},{"r":3,"l":2,"x":300,"y":11.8},
{"r":3,"l":3,"x":0,"y":0},{"r":3,"l":3,"x":20,"y":1.7},{"r":3,"l":3,"x":50,"y":3.8},{"r":3,"l":3,"x":80,"y":5.0},{"r":3,"l":3,"x":110,"y":5.8},{"r":3,"l":3,"x":140,"y":6.5},{"r":3,"l":3,"x":170,"y":7.0},{"r":3,"l":3,"x":200,"y":7.6},{"r":3,"l":3,"x":230,"y":8.3},{"r":3,"l":3,"x":260,"y":8.6},{"r":3,"l":3,"x":300,"y":8.7},
{"r":3,"l":4,"x":0,"y":0},{"r":3,"l":4,"x":20,"y":1.6},{"r":3,"l":4,"x":50,"y":3.4},{"r":3,"l":4,"x":80,"y":4.6},{"r":3,"l":4,"x":110,"y":5.2},{"r":3,"l":4,"x":140,"y":5.9},{"r":3,"l":4,"x":170,"y":6.6},{"r":3,"l":4,"x":200,"y":7.1},{"r":3,"l":4,"x":230,"y":7.6},{"r":3,"l":4,"x":260,"y":7.9},{"r":3,"l":4,"x":300,"y":8.2},
{"r":3,"l":5,"x":0,"y":0},{"r":3,"l":5,"x":20,"y":1.5},{"r":3,"l":5,"x":50,"y":3.0},{"r":3,"l":5,"x":80,"y":4.0},{"r":3,"l":5,"x":110,"y":4.8},{"r":3,"l":5,"x":140,"y":5.4},{"r":3,"l":5,"x":170,"y":6.0},{"r":3,"l":5,"x":200,"y":6.5},{"r":3,"l":5,"x":230,"y":7.0},{"r":3,"l":5,"x":260,"y":7.3},{"r":3,"l":5,"x":300,"y":7.6},
{"r":3,"l":6,"x":0,"y":0},{"r":3,"l":6,"x":20,"y":1.3},{"r":3,"l":6,"x":50,"y":2.7},{"r":3,"l":6,"x":80,"y":3.6},{"r":3,"l":6,"x":110,"y":4.2},{"r":3,"l":6,"x":140,"y":4.8},{"r":3,"l":6,"x":170,"y":5.3},{"r":3,"l":6,"x":200,"y":5.9},{"r":3,"l":6,"x":230,"y":6.2},{"r":3,"l":6,"x":260,"y":6.6},{"r":3,"l":6,"x":300,"y":6.9},
{"r":3,"l":7,"x":0,"y":0},{"r":3,"l":7,"x":20,"y":1.2},{"r":3,"l":7,"x":50,"y":2.4},{"r":3,"l":7,"x":80,"y":3.2},{"r":3,"l":7,"x":110,"y":3.7},{"r":3,"l":7,"x":140,"y":4.2},{"r":3,"l":7,"x":170,"y":4.7},{"r":3,"l":7,"x":200,"y":5.1},{"r":3,"l":7,"x":230,"y":5.5},{"r":3,"l":7,"x":260,"y":5.9},{"r":3,"l":7,"x":300,"y":6.1},
{"r":3,"l":8,"x":0,"y":0},{"r":3,"l":8,"x":20,"y":1.0},{"r":3,"l":8,"x":50,"y":2.0},{"r":3,"l":8,"x":80,"y":2.7},{"r":3,"l":8,"x":110,"y":3.1},{"r":3,"l":8,"x":140,"y":3.6},{"r":3,"l":8,"x":170,"y":4.0},{"r":3,"l":8,"x":200,"y":4.4},{"r":3,"l":8,"x":230,"y":4.7},{"r":3,"l":8,"x":260,"y":5.0},{"r":3,"l":8,"x":300,"y":5.3},
{"r":3,"l":9,"x":0,"y":0},{"r":3,"l":9,"x":20,"y":0.9},{"r":3,"l":9,"x":50,"y":1.7},{"r":3,"l":9,"x":80,"y":2.3},{"r":3,"l":9,"x":110,"y":2.7},{"r":3,"l":9,"x":140,"y":3.0},{"r":3,"l":9,"x":170,"y":3.4},{"r":3,"l":9,"x":200,"y":3.7},{"r":3,"l":9,"x":230,"y":3.9},{"r":3,"l":9,"x":260,"y":4.3},{"r":3,"l":9,"x":300,"y":4.5},
{"r":3,"l":10,"x":0,"y":0},{"r":3,"l":10,"x":20,"y":0.7},{"r":3,"l":10,"x":50,"y":1.4},{"r":3,"l":10,"x":80,"y":1.8},{"r":3,"l":10,"x":110,"y":2.1},{"r":3,"l":10,"x":140,"y":2.4},{"r":3,"l":10,"x":170,"y":2.7},{"r":3,"l":10,"x":200,"y":2.9},{"r":3,"l":10,"x":230,"y":3.2},{"r":3,"l":10,"x":260,"y":3.4},{"r":3,"l":10,"x":300,"y":3.6},
{"r":3,"l":11,"x":0,"y":0},{"r":3,"l":11,"x":20,"y":0.6},{"r":3,"l":11,"x":50,"y":1.1},{"r":3,"l":11,"x":80,"y":1.4},{"r":3,"l":11,"x":110,"y":1.6},{"r":3,"l":11,"x":140,"y":1.8},{"r":3,"l":11,"x":170,"y":2.0},{"r":3,"l":11,"x":200,"y":2.2},{"r":3,"l":11,"x":230,"y":2.4},{"r":3,"l":11,"x":260,"y":2.6},{"r":3,"l":11,"x":300,"y":2.8},
{"r":3,"l":12,"x":0,"y":0},{"r":3,"l":12,"x":20,"y":0.4},{"r":3,"l":12,"x":50,"y":0.8},{"r":3,"l":12,"x":80,"y":1.0},{"r":3,"l":12,"x":110,"y":1.1},{"r":3,"l":12,"x":140,"y":1.2},{"r":3,"l":12,"x":170,"y":1.4},{"r":3,"l":12,"x":200,"y":1.5},{"r":3,"l":12,"x":230,"y":1.6},{"r":3,"l":12,"x":260,"y":1.8},{"r":3,"l":12,"x":300,"y":1.9},
{"r":3,"l":13,"x":0,"y":0},{"r":3,"l":13,"x":20,"y":0.2},{"r":3,"l":13,"x":50,"y":0.4},{"r":3,"l":13,"x":80,"y":0.5},{"r":3,"l":13,"x":110,"y":0.6},{"r":3,"l":13,"x":140,"y":0.7},{"r":3,"l":13,"x":170,"y":0.7},{"r":3,"l":13,"x":200,"y":0.8},{"r":3,"l":13,"x":230,"y":0.9},{"r":3,"l":13,"x":260,"y":1.0},{"r":3,"l":13,"x":300,"y":1.0},
{"r":3,"l":14,"x":0,"y":0},{"r":3,"l":14,"x":20,"y":0.1},{"r":3,"l":14,"x":50,"y":0.1},{"r":3,"l":14,"x":80,"y":0.1},{"r":3,"l":14,"x":110,"y":0.0},{"r":3,"l":14,"x":140,"y":-0.1},{"r":3,"l":14,"x":170,"y":0.0},{"r":3,"l":14,"x":200,"y":0.1},{"r":3,"l":14,"x":230,"y":0.0},{"r":3,"l":14,"x":260,"y":0.1},{"r":3,"l":14,"x":300,"y":0.2},
{"r":3,"l":15,"x":0,"y":0},{"r":3,"l":15,"x":20,"y":-0.1},{"r":3,"l":15,"x":50,"y":-0.3},{"r":3,"l":15,"x":80,"y":-0.4},{"r":3,"l":15,"x":110,"y":-0.6},{"r":3,"l":15,"x":140,"y":-0.7},{"r":3,"l":15,"x":170,"y":-0.8},{"r":3,"l":15,"x":200,"y":-0.9},{"r":3,"l":15,"x":230,"y":-0.8},{"r":3,"l":15,"x":260,"y":-0.8},{"r":3,"l":15,"x":300,"y":-0.7},
{"r":3,"l":16,"x":0,"y":0},{"r":3,"l":16,"x":20,"y":-0.3},{"r":3,"l":16,"x":50,"y":-0.6},{"r":3,"l":16,"x":80,"y":-0.9},{"r":3,"l":16,"x":110,"y":-1.2},{"r":3,"l":16,"x":140,"y":-1.4},{"r":3,"l":16,"x":170,"y":-1.6},{"r":3,"l":16,"x":200,"y":-1.7},{"r":3,"l":16,"x":230,"y":-1.7},{"r":3,"l":16,"x":260,"y":-1.7},{"r":3,"l":16,"x":300,"y":-1.6},
{"r":3,"l":17,"x":0,"y":0},{"r":3,"l":17,"x":20,"y":-0.5},{"r":3,"l":17,"x":50,"y":-1.0},{"r":3,"l":17,"x":80,"y":-1.4},{"r":3,"l":17,"x":110,"y":-1.8},{"r":3,"l":17,"x":140,"y":-2.1},{"r":3,"l":17,"x":170,"y":-2.3},{"r":3,"l":17,"x":200,"y":-2.5},{"r":3,"l":17,"x":230,"y":-2.6},{"r":3,"l":17,"x":260,"y":-2.6},{"r":3,"l":17,"x":300,"y":-2.5},
{"r":3,"l":18,"x":0,"y":0},{"r":3,"l":18,"x":20,"y":-0.6},{"r":3,"l":18,"x":50,"y":-1.3},{"r":3,"l":18,"x":80,"y":-1.9},{"r":3,"l":18,"x":110,"y":-2.4},{"r":3,"l":18,"x":140,"y":-2.8},{"r":3,"l":18,"x":170,"y":-3.1},{"r":3,"l":18,"x":200,"y":-3.3},{"r":3,"l":18,"x":230,"y":-3.4},{"r":3,"l":18,"x":260,"y":-3.5},{"r":3,"l":18,"x":300,"y":-3.5},
{"r":3,"l":19,"x":0,"y":0},{"r":3,"l":19,"x":20,"y":-0.8},{"r":3,"l":19,"x":50,"y":-1.6},{"r":3,"l":19,"x":80,"y":-2.4},{"r":3,"l":19,"x":110,"y":-3.0},{"r":3,"l":19,"x":140,"y":-3.4},{"r":3,"l":19,"x":170,"y":-3.8},{"r":3,"l":19,"x":200,"y":-4.1},{"r":3,"l":19,"x":230,"y":-4.2},{"r":3,"l":19,"x":260,"y":-4.4},{"r":3,"l":19,"x":300,"y":-4.4},
{"r":3,"l":20,"x":0,"y":0},{"r":3,"l":20,"x":20,"y":-0.9},{"r":3,"l":20,"x":50,"y":-1.9},{"r":3,"l":20,"x":80,"y":-2.8},{"r":3,"l":20,"x":110,"y":-3.5},{"r":3,"l":20,"x":140,"y":-4.0},{"r":3,"l":20,"x":170,"y":-4.5},{"r":3,"l":20,"x":200,"y":-4.8},{"r":3,"l":20,"x":230,"y":-5.0},{"r":3,"l":20,"x":260,"y":-5.2},{"r":3,"l":20,"x":300,"y":-5.3},
{"r":3,"l":21,"x":0,"y":0},{"r":3,"l":21,"x":20,"y":-1.1},{"r":3,"l":21,"x":50,"y":-2.3},{"r":3,"l":21,"x":80,"y":-3.3},{"r":3,"l":21,"x":110,"y":-4.1},{"r":3,"l":21,"x":140,"y":-4.7},{"r":3,"l":21,"x":170,"y":-5.1},{"r":3,"l":21,"x":200,"y":-5.5},{"r":3,"l":21,"x":230,"y":-5.8},{"r":3,"l":21,"x":260,"y":-6.0},{"r":3,"l":21,"x":300,"y":-6.2},
{"r":3,"l":22,"x":0,"y":0},{"r":3,"l":22,"x":20,"y":-1.2},{"r":3,"l":22,"x":50,"y":-2.6},{"r":3,"l":22,"x":80,"y":-3.8},{"r":3,"l":22,"x":110,"y":-4.6},{"r":3,"l":22,"x":140,"y":-5.3},{"r":3,"l":22,"x":170,"y":-5.8},{"r":3,"l":22,"x":200,"y":-6.2},{"r":3,"l":22,"x":230,"y":-6.6},{"r":3,"l":22,"x":260,"y":-6.9},{"r":3,"l":22,"x":300,"y":-7.1},
{"r":3,"l":23,"x":0,"y":0},{"r":3,"l":23,"x":20,"y":-1.3},{"r":3,"l":23,"x":50,"y":-2.9},{"r":3,"l":23,"x":80,"y":-4.3},{"r":3,"l":23,"x":110,"y":-5.2},{"r":3,"l":23,"x":140,"y":-5.9},{"r":3,"l":23,"x":170,"y":-6.5},{"r":3,"l":23,"x":200,"y":-7.0},{"r":3,"l":23,"x":230,"y":-7.4},{"r":3,"l":23,"x":260,"y":-7.7},{"r":3,"l":23,"x":300,"y":-8.0},
{"r":3,"l":24,"x":0,"y":0},{"r":3,"l":24,"x":20,"y":-1.5},{"r":3,"l":24,"x":50,"y":-3.3},{"r":3,"l":24,"x":80,"y":-4.9},{"r":3,"l":24,"x":110,"y":-5.8},{"r":3,"l":24,"x":140,"y":-6.5},{"r":3,"l":24,"x":170,"y":-7.1},{"r":3,"l":24,"x":200,"y":-7.6},{"r":3,"l":24,"x":230,"y":-8.1},{"r":3,"l":24,"x":260,"y":-8.5},{"r":3,"l":24,"x":300,"y":-8.8},
{"r":3,"l":25,"x":0,"y":0},{"r":3,"l":25,"x":20,"y":-1.6},{"r":3,"l":25,"x":50,"y":-3.6},{"r":3,"l":25,"x":80,"y":-5.5},{"r":3,"l":25,"x":110,"y":-6.5},{"r":3,"l":25,"x":140,"y":-7.1},{"r":3,"l":25,"x":170,"y":-7.6},{"r":3,"l":25,"x":200,"y":-8.2},{"r":3,"l":25,"x":230,"y":-8.8},{"r":3,"l":25,"x":260,"y":-9.3},{"r":3,"l":25,"x":300,"y":-9.7},
{"r":3,"l":26,"x":0,"y":0},{"r":3,"l":26,"x":20,"y":-1.7},{"r":3,"l":26,"x":50,"y":-3.9},{"r":3,"l":26,"x":80,"y":-6.1},{"r":3,"l":26,"x":110,"y":-7.1},{"r":3,"l":26,"x":140,"y":-7.7},{"r":3,"l":26,"x":170,"y":-8.2},{"r":3,"l":26,"x":200,"y":-8.9},{"r":3,"l":26,"x":230,"y":-9.5},{"r":3,"l":26,"x":260,"y":-10.2},{"r":3,"l":26,"x":300,"y":-10.6},
{"r":3,"l":27,"x":0,"y":0},{"r":3,"l":27,"x":20,"y":-1.8},{"r":3,"l":27,"x":50,"y":-4.2},{"r":3,"l":27,"x":80,"y":-6.7},{"r":3,"l":27,"x":110,"y":-7.7},{"r":3,"l":27,"x":140,"y":-8.3},{"r":3,"l":27,"x":170,"y":-8.8},{"r":3,"l":27,"x":200,"y":-9.6},{"r":3,"l":27,"x":230,"y":-10.3},{"r":3,"l":27,"x":260,"y":-11.0},{"r":3,"l":27,"x":300,"y":-11.5},
{"r":3,"l":28,"x":0,"y":0},{"r":3,"l":28,"x":20,"y":-2.0},{"r":3,"l":28,"x":50,"y":-4.5},{"r":3,"l":28,"x":80,"y":-7.3},{"r":3,"l":28,"x":110,"y":-8.3},{"r":3,"l":28,"x":140,"y":-8.8},{"r":3,"l":28,"x":170,"y":-9.5},{"r":3,"l":28,"x":200,"y":-10.3},{"r":3,"l":28,"x":230,"y":-11.0},{"r":3,"l":28,"x":260,"y":-11.9},{"r":3,"l":28,"x":300,"y":-12.4},
{"r":3,"l":29,"x":0,"y":0},{"r":3,"l":29,"x":20,"y":1.1},{"r":3,"l":29,"x":50,"y":2.8},{"r":3,"l":29,"x":80,"y":4.3},{"r":3,"l":29,"x":110,"y":5.7},{"r":3,"l":29,"x":140,"y":6.2},{"r":3,"l":29,"x":170,"y":5.4},{"r":3,"l":29,"x":200,"y":4.8},{"r":3,"l":29,"x":230,"y":4.0},{"r":3,"l":29,"x":260,"y":3.2},{"r":3,"l":29,"x":300,"y":2.5},
{"r":3,"l":30,"x":0,"y":0},{"r":3,"l":30,"x":20,"y":-0.6},{"r":3,"l":30,"x":50,"y":-0.9},{"r":3,"l":30,"x":80,"y":-0.5},{"r":3,"l":30,"x":110,"y":0.4},{"r":3,"l":30,"x":140,"y":1.3},{"r":3,"l":30,"x":170,"y":2.4},{"r":3,"l":30,"x":200,"y":3.5},{"r":3,"l":30,"x":230,"y":4.9},{"r":3,"l":30,"x":260,"y":6.1},{"r":3,"l":30,"x":300,"y":7.3},
{"r":3,"l":31,"x":0,"y":0},{"r":3,"l":31,"x":20,"y":0.3},{"r":3,"l":31,"x":50,"y":-0.5},{"r":3,"l":31,"x":80,"y":-1.8},{"r":3,"l":31,"x":110,"y":-3.2},{"r":3,"l":31,"x":140,"y":-4.5},{"r":3,"l":31,"x":170,"y":-5.4},{"r":3,"l":31,"x":200,"y":-6.6},{"r":3,"l":31,"x":230,"y":-7.8},{"r":3,"l":31,"x":260,"y":-8.9},{"r":3,"l":31,"x":300,"y":-9.8},
{"r":3,"l":32,"x":0,"y":0},{"r":3,"l":32,"x":20,"y":-1.0},{"r":3,"l":32,"x":50,"y":-2.8},{"r":3,"l":32,"x":80,"y":-4.6},{"r":3,"l":32,"x":110,"y":-5.3},{"r":3,"l":32,"x":140,"y":-5.5},{"r":3,"l":32,"x":170,"y":-5.0},{"r":3,"l":32,"x":200,"y":-4.5},{"r":3,"l":32,"x":230,"y":-4.0},{"r":3,"l":32,"x":260,"y":-3.6},{"r":3,"l":32,"x":300,"y":-3.4},
{"r":3,"l":33,"x":0,"y":0},{"r":3,"l":33,"x":20,"y":1.4},{"r":3,"l":33,"x":50,"y":3.6},{"r":3,"l":33,"x":80,"y":5.3},{"r":3,"l":33,"x":110,"y":6.2},{"r":3,"l":33,"x":140,"y":6.9},{"r":3,"l":33,"x":170,"y":7.4},{"r":3,"l":33,"x":200,"y":7.8},{"r":3,"l":33,"x":230,"y":8.0},{"r":3,"l":33,"x":260,"y":8.4},{"r":3,"l":33,"x":300,"y":9.4},
{"r":3,"l":34,"x":0,"y":0},{"r":3,"l":34,"x":20,"y":-0.4},{"r":3,"l":34,"x":50,"y":-1.1},{"r":3,"l":34,"x":80,"y":-2.0},{"r":3,"l":34,"x":110,"y":-2.4},{"r":3,"l":34,"x":140,"y":-3.3},{"r":3,"l":34,"x":170,"y":-4.1},{"r":3,"l":34,"x":200,"y":-4.4},{"r":3,"l":34,"x":230,"y":-4.8},{"r":3,"l":34,"x":260,"y":-5.6},{"r":3,"l":34,"x":300,"y":-5.9},
{"r":3,"l":35,"x":0,"y":0},{"r":3,"l":35,"x":20,"y":0.8},{"r":3,"l":35,"x":50,"y":1.6},{"r":3,"l":35,"x":80,"y":2.1},{"r":3,"l":35,"x":110,"y":2.9},{"r":3,"l":35,"x":140,"y":3.9},{"r":3,"l":35,"x":170,"y":4.5},{"r":3,"l":35,"x":200,"y":5.2},{"r":3,"l":35,"x":230,"y":5.8},{"r":3,"l":35,"x":260,"y":6.4},{"r":3,"l":35,"x":300,"y":6.6},
{"r":3,"l":36,"x":0,"y":0},{"r":3,"l":36,"x":20,"y":-1.4},{"r":3,"l":36,"x":50,"y":-3.1},{"r":3,"l":36,"x":80,"y":-4.6},{"r":3,"l":36,"x":110,"y":-5.4},{"r":3,"l":36,"x":140,"y":-6.2},{"r":3,"l":36,"x":170,"y":-6.8},{"r":3,"l":36,"x":200,"y":-7.2},{"r":3,"l":36,"x":230,"y":-7.7},{"r":3,"l":36,"x":260,"y":-8.2},{"r":3,"l":36,"x":300,"y":-8.4}
]},
"vconcat": [
 {"width": 587, "height": 194, "layer": [
  {"data": {"name": "paths"}, "transform": [{"filter": "datum.r == 1"}],
   "mark": {"type": "line", "stroke": "black", "strokeWidth": 1.5},
   "encoding": {
    "x": {"field": "x", "type": "quantitative", "scale": {"domain": [0, 300], "nice": false}, "axis": {"orient": "top", "title": "X(CM)", "tickCount": 40, "values": [0,20,40,60,80,100,120,140,160,180,200,220,240,260,280,300], "labelExpr": "datum.value % 40 == 0 && datum.value > 0 && datum.value < 300 ? datum.label : ''", "labelOverlap": false, "labelFlush": false, "tickSize": 7, "labelPadding": 7, "titlePadding": 10}},
    "y": {"field": "y", "type": "quantitative", "scale": {"domain": [-25, 25], "nice": false}, "axis": {"title": null, "tickCount": 20, "values": [25,15,5,0,-5,-15,-25], "labelExpr": "datum.value == 0 ? 'Y(CM)' : (datum.value < 0 ? '-' + abs(datum.value) : '' + datum.value)", "labelOverlap": false, "labelFlush": false, "tickSize": 6, "labelPadding": 4, "tickOpacity": {"condition": {"test": "datum.value == 0", "value": 0}, "value": 1}}},
    "detail": {"field": "l", "type": "nominal"}
   }},
  {"data": {"values": [{"label": "RUN 1"}]},
   "mark": {"type": "text", "font": "Liberation Serif", "fontSize": 20, "align": "center", "baseline": "middle", "color": "black"},
   "encoding": {"x": {"datum": 141}, "y": {"datum": 19.3}, "text": {"field": "label"}}}
 ]},
 {"width": 587, "height": 194, "layer": [
  {"data": {"name": "paths"}, "transform": [{"filter": "datum.r == 2"}],
   "mark": {"type": "line", "stroke": "black", "strokeWidth": 1.5},
   "encoding": {
    "x": {"field": "x", "type": "quantitative", "scale": {"domain": [0, 300], "nice": false}, "axis": {"orient": "top", "title": "X(CM)", "tickCount": 40, "values": [0,20,40,60,80,100,120,140,160,180,200,220,240,260,280,300], "labelExpr": "datum.value % 40 == 0 && datum.value > 0 && datum.value < 300 ? datum.label : ''", "labelOverlap": false, "labelFlush": false, "tickSize": 7, "labelPadding": 7, "titlePadding": 10}},
    "y": {"field": "y", "type": "quantitative", "scale": {"domain": [-25, 25], "nice": false}, "axis": {"title": null, "tickCount": 20, "values": [25,15,5,0,-5,-15,-25], "labelExpr": "datum.value == 0 ? 'Y(CM)' : (datum.value < 0 ? '-' + abs(datum.value) : '' + datum.value)", "labelOverlap": false, "labelFlush": false, "tickSize": 6, "labelPadding": 4, "tickOpacity": {"condition": {"test": "datum.value == 0", "value": 0}, "value": 1}}},
    "detail": {"field": "l", "type": "nominal"}
   }},
  {"data": {"values": [{"label": "RUN 2"}]},
   "mark": {"type": "text", "font": "Liberation Serif", "fontSize": 20, "align": "center", "baseline": "middle", "color": "black"},
   "encoding": {"x": {"datum": 143}, "y": {"datum": 18.8}, "text": {"field": "label"}}}
 ]},
 {"width": 587, "height": 194, "layer": [
  {"data": {"name": "paths"}, "transform": [{"filter": "datum.r == 3"}],
   "mark": {"type": "line", "stroke": "black", "strokeWidth": 1.5},
   "encoding": {
    "x": {"field": "x", "type": "quantitative", "scale": {"domain": [0, 300], "nice": false}, "axis": {"orient": "top", "title": "X(CM)", "tickCount": 40, "values": [0,20,40,60,80,100,120,140,160,180,200,220,240,260,280,300], "labelExpr": "datum.value % 40 == 0 && datum.value > 0 && datum.value < 300 ? datum.label : ''", "labelOverlap": false, "labelFlush": false, "tickSize": 7, "labelPadding": 7, "titlePadding": 10}},
    "y": {"field": "y", "type": "quantitative", "scale": {"domain": [-25, 25], "nice": false}, "axis": {"title": null, "tickCount": 20, "values": [25,15,5,0,-5,-15,-25], "labelExpr": "datum.value == 0 ? 'Y(CM)' : (datum.value < 0 ? '-' + abs(datum.value) : '' + datum.value)", "labelOverlap": false, "labelFlush": false, "tickSize": 6, "labelPadding": 4, "tickOpacity": {"condition": {"test": "datum.value == 0", "value": 0}, "value": 1}}},
    "detail": {"field": "l", "type": "nominal"}
   }},
  {"data": {"values": [{"label": "RUN 3"}]},
   "mark": {"type": "text", "font": "Liberation Serif", "fontSize": 20, "align": "center", "baseline": "middle", "color": "black"},
   "encoding": {"x": {"datum": 144}, "y": {"datum": 19.5}, "text": {"field": "label"}}}
 ]}
]
}
